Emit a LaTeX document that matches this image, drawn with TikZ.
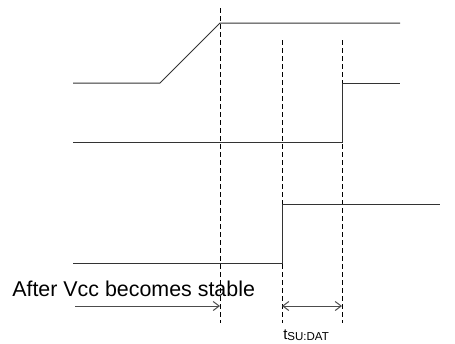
\documentclass[tikz,border=0pt]{standalone}
\usepackage{fontspec}
\setmainfont{Liberation Sans}
\usetikzlibrary{positioning,arrows.meta}

\begin{document}
\begin{tikzpicture}[x=1pt ,y=-1pt ,semithick,
signal/.style ={ draw=black!80 ,line width=1pt},
guide/.style ={ draw=black ,line width=0.9pt ,dash pattern=on 5pt off 3pt},
span/.style ={ draw=black!70 ,line width=1pt ,-{Straight Barb[length=6pt,width=9pt]}}]
\useasboundingbox (0,0) rectangle (455,343);
% reference lines
\coordinate (VccTop) at (220,8);
\coordinate (VccBot) at (220,323);
\coordinate (HoldTop) at (282,40);
\coordinate (HoldBot) at (282,323);
\coordinate (SetTop) at (342,40);
\coordinate (SetBot) at (342,323);
\path[guide] (VccTop) -- (VccBot);
\path[guide] (HoldTop) -- (HoldBot);
\path[guide] (SetTop) -- (SetBot);
% Vcc
\coordinate (VccStart) at (73,83);
\coordinate (RampLow) at (160,83);
\coordinate (RampHigh) at (220,23);
\coordinate (VccEnd) at (400,23);
\path[signal] (VccStart) -- (RampLow) -- (RampHigh) -- (VccEnd);
% data line
\coordinate (DataStart) at (73,142);
\coordinate (DataLow) at (342,142);
\coordinate (DataHigh) at (342,83);
\coordinate (DataEnd) at (400,83);
\path[signal] (DataStart) -- (DataLow) -- (DataHigh) -- (DataEnd);
% clock line
\coordinate (ClkStart) at (73,263);
\coordinate (ClkLow) at (282,263);
\coordinate (ClkHigh) at (282,204);
\coordinate (ClkEnd) at (440,204);
\path[signal] (ClkStart) -- (ClkLow) -- (ClkHigh) -- (ClkEnd);
% labels
\node[anchor=base west ,inner sep=0pt ,font=\fontsize{21.4}{24}\selectfont] (Stable) at (12,296) {After Vcc becomes stable};
\coordinate (WaitStart) at (75,306);
\coordinate (WaitEnd) at (220,306);
\path[span] (WaitStart) -- (WaitEnd);
\coordinate (SuLeft) at (282,306);
\coordinate (SuRight) at (342,306);
\path[span ,{Straight Barb[length=6pt,width=9pt]}-{Straight Barb[length=6pt,width=9pt]}] (SuLeft) -- (SuRight);
\node[anchor=base west ,inner sep=0pt ,font=\fontsize{15}{16}\selectfont] (Tsu) at (283,339) {t\raisebox{-1.5pt}{\fontsize{11.5}{12}\selectfont SU:DAT}};
\end{tikzpicture}
\end{document}
